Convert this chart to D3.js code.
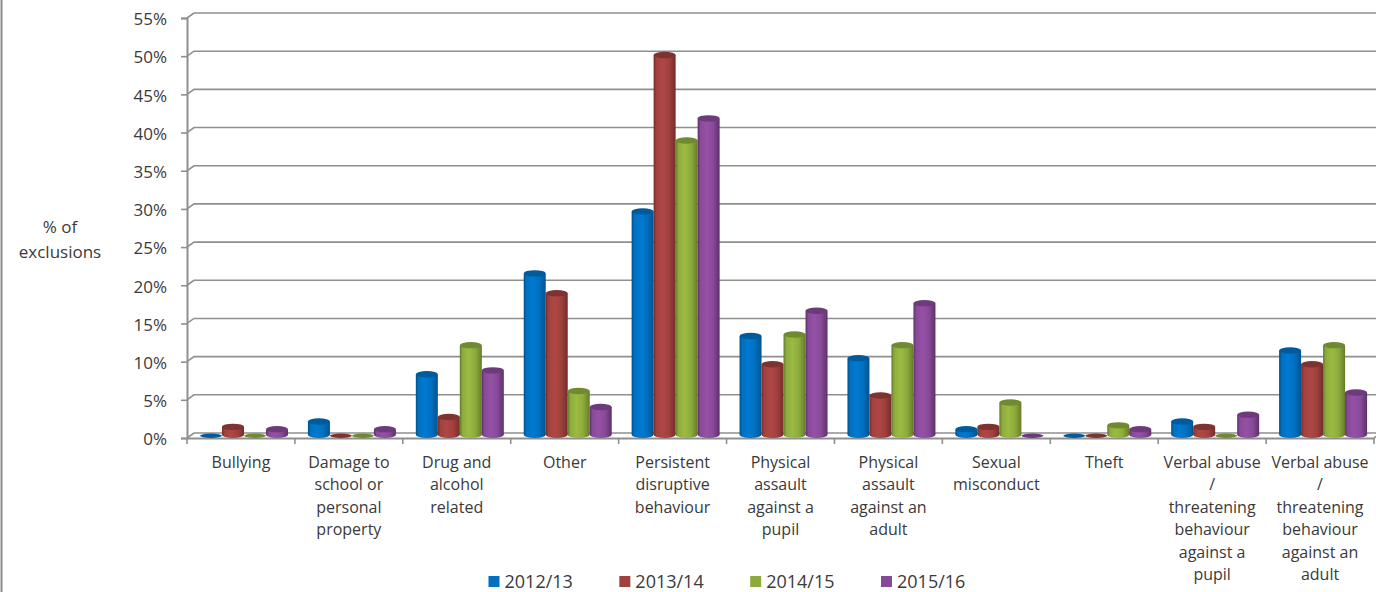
<!DOCTYPE html>
<html><head><meta charset="utf-8">
<script src="https://cdn.jsdelivr.net/npm/d3@7"></script>
<style>html,body{margin:0;padding:0;background:#fff;overflow:hidden}svg{display:block}
text{font-family:"Open Sans",sans-serif;font-size:16px;fill:#3a3a3a}</style></head><body>
<svg id="c" width="1376" height="592"></svg>
<script>
const categories=["Bullying","Damage to school or personal property","Drug and alcohol related","Other","Persistent disruptive behaviour","Physical assault against a pupil","Physical assault against an adult","Sexual misconduct","Theft","Verbal abuse / threatening behaviour against a pupil","Verbal abuse / threatening behaviour against an adult"];
const categoryLines=[["Bullying"],["Damage to","school or","personal","property"],["Drug and","alcohol","related"],["Other"],["Persistent","disruptive","behaviour"],["Physical","assault","against a","pupil"],["Physical","assault","against an","adult"],["Sexual","misconduct"],["Theft"],["Verbal abuse","/","threatening","behaviour","against a","pupil"],["Verbal abuse","/","threatening","behaviour","against an","adult"]];
const seriesNames=["2012/13","2013/14","2014/15","2015/16"];
const v2012=[0,2,8.2,21.4,29.5,13.2,10.3,1,0,2,11.3];
const v2013=[1.3,0,2.6,18.8,50,9.5,5.4,1.3,0,1.3,9.5];
const v2014=[0,0,12,6,38.8,13.4,12,4.5,1.5,0,12];
const v2015=[1,1,8.7,3.9,41.7,16.5,17.5,0,1,2.9,5.8];
const seriesValues=[v2012,v2013,v2014,v2015];
const colors=["#0070c0","#a0413e","#8dab3c","#884a98"];
const dark=["#004f88","#6f2c2a","#62772a","#5c3068"];
const topColors=["#005a9c","#7f3331","#6f8a2f","#6d3a7a"];
const tickValues=d3.range(0,56,5);
const axisLabel=["% of","exclusions"];

const svg=d3.select("#c");
const y=d3.scaleLinear().domain([0,55]).range([438,18]);
const x0=d3.scaleBand().domain(categories).range([187,1374]);
const x1=d3.scaleBand().domain(seriesNames).range([13,101]);
const dx=7,dy=5,ry=3.2;

svg.append("line").attr("x1",1.5).attr("x2",1.5).attr("y1",0).attr("y2",592).attr("stroke","#8c8c8c").attr("stroke-width",2);

const defs=svg.append("defs");
colors.forEach((c,i)=>{
  const g=defs.append("linearGradient").attr("id","g"+i);
  [[0,dark[i]],[.12,c],[.4,d3.color(c).brighter(.25).formatHex()],[.7,c],[.92,d3.color(dark[i]).brighter(.4).formatHex()],[1,dark[i]]]
    .forEach(s=>g.append("stop").attr("offset",s[0]).attr("stop-color",s[1]));
});

const grey="#8f8f8f";
svg.append("g").selectAll("path").data(tickValues).join("path")
  .attr("fill","none").attr("stroke",grey).attr("stroke-width",1.6)
  .attr("d",d=>`M187,${y(d)}L${187+dx},${y(d)-dy}L1376,${y(d)-dy}`);

const ya=svg.append("g").attr("transform","translate(187,0)")
  .call(d3.axisLeft(y).tickValues(tickValues).tickFormat(d=>d+"%").tickSize(6).tickPadding(14));
ya.selectAll(".domain").attr("stroke",grey).attr("stroke-width",2);
ya.selectAll(".tick line").attr("stroke",grey).attr("stroke-width",1.6);
ya.selectAll("text").style("font-size","17px").attr("dy","0.4em");

const xa=svg.append("g").attr("transform","translate(0,438)")
  .call(d3.axisBottom(x0).tickSize(0).tickFormat(""));
xa.select(".domain").attr("stroke",grey).attr("stroke-width",2);
xa.selectAll(".tick").remove();
svg.append("g").selectAll("line").data(categories.map(c=>x0(c)).concat([x0.range()[1]])).join("line")
  .attr("x1",d=>d).attr("x2",d=>d).attr("y1",438).attr("y2",444).attr("stroke",grey).attr("stroke-width",1.6);
svg.append("path").attr("fill","none").attr("stroke",grey).attr("stroke-width",1.6)
  .attr("d",`M1374,438L1376,436.5`);

const yBase=y(0)-3.2;
const topY=v=>y(v)-1.2;
const cols=svg.append("g");
categories.forEach((cat,ci)=>{
  seriesNames.forEach((s,si)=>{
    const v=seriesValues[si][ci];
    const l=x0(cat)+x1(s),w=x1.bandwidth(),r=w/2,cx=l+r;
    const g=cols.append("g");
    const t=Math.min(topY(v),yBase);
    if(v>0){
      g.append("path").attr("fill",`url(#g${si})`)
       .attr("d",`M${l},${t}L${l},${yBase}A${r},${ry} 0 0 0 ${l+w},${yBase}L${l+w},${t}Z`);
    }
    g.append("ellipse").attr("cx",cx).attr("cy",v>0?t:t+1).attr("rx",r).attr("ry",v>0?ry:2.2)
      .attr("fill",topColors[si]);
  });
});

svg.append("g").selectAll("text").data(categories).join("text")
  .attr("text-anchor","middle")
  .each(function(c,i){
    d3.select(this).selectAll("tspan").data(categoryLines[i]).join("tspan")
      .attr("x",x0(c)+x0.bandwidth()/2).attr("y",(d,j)=>468+j*22.4).text(d=>d);
  });

svg.append("g").selectAll("text").data(axisLabel).join("text")
  .attr("text-anchor","middle").attr("x",60).attr("y",(d,i)=>233+i*25).style("font-size","17px").text(d=>d);

const lx=d3.scalePoint().domain(seriesNames).range([488.5,881]);
const lg=svg.append("g").selectAll("g").data(seriesNames).join("g").attr("transform",d=>`translate(${lx(d)},0)`);
lg.append("rect").attr("y",576).attr("width",11).attr("height",11).attr("fill",(d,i)=>colors[i]);
lg.append("text").attr("x",16).attr("y",588).style("font-size","18px").text(d=>d);
</script></body></html>
